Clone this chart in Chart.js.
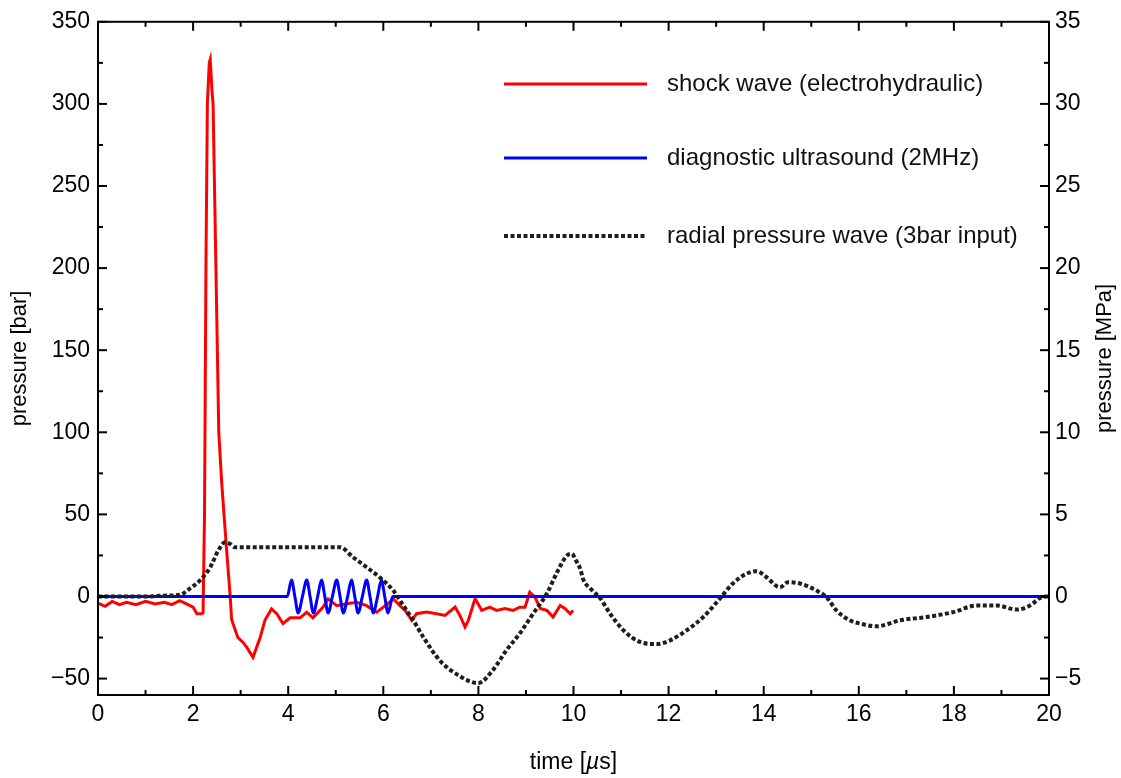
<!DOCTYPE html>
<html lang="en">
<head>
    <meta charset="UTF-8">
    <title>pressure waves</title>
    <style>
        body { margin: 0; background: #fff; }
    </style>
</head>
<body>
    <canvas id="myChart" width="1121" height="778"></canvas>
    <script src="https://cdn.jsdelivr.net/npm/chart.js"></script>
    <script>
        // values (time in µs, pressure in bar)
        const shockX = [0, 0.15, 0.3, 0.45, 0.6, 0.8, 1.0, 1.2, 1.4, 1.55, 1.72, 1.86, 2.0, 2.08, 2.18, 2.21,
            2.24, 2.27, 2.30, 2.34, 2.36, 2.40, 2.42, 2.48, 2.54, 2.60, 2.65, 2.70, 2.78, 2.81, 2.94, 3.05, 3.13,
            3.26, 3.41, 3.51, 3.65, 3.76, 3.89, 4.04, 4.25, 4.39, 4.52, 4.73, 4.84, 5.02, 5.23, 5.44, 5.65, 5.86,
            6.07, 6.21, 6.35, 6.47, 6.60, 6.70, 6.91, 7.12, 7.30, 7.51, 7.61, 7.72, 7.79, 7.93, 8.07, 8.24, 8.38,
            8.56, 8.73, 8.87, 8.98, 9.08, 9.19, 9.30, 9.44, 9.57, 9.72, 9.82, 9.93, 9.99];
        const shockY = [-4, -6, -3, -5, -3.5, -5, -3, -4.5, -3.5, -5, -2.5, -4.5, -6.5, -10.5, -10.5, -10,
            50, 200, 300, 325, 327, 307, 300, 200, 100, 70, 50, 30, 0, -14, -25, -28, -31,
            -37, -25, -14.5, -7.5, -10.5, -16.5, -13, -13, -9.6, -13, -6.6, -1.5, -5.6, -4.4, -3.5, -5.6, -9.6,
            -5, -1.5, -5.6, -9, -14.5, -10.5, -9.5, -10.5, -11.5, -6.5, -11.5, -18.6, -14.5, -1.2, -8.5, -6.5, -8.5,
            -7.3, -8.5, -6.5, -6.5, 2.6, -0.4, -7.3, -8.5, -12.5, -5.5, -7.3, -10.5, -8.5];

        const usX = [0, 3.98, 4.07, 4.14, 4.21, 4.30, 4.39, 4.46, 4.53, 4.62, 4.70, 4.77, 4.84, 4.93, 5.02,
            5.09, 5.16, 5.25, 5.33, 5.40, 5.47, 5.56, 5.65, 5.72, 5.79, 5.88, 5.96, 6.03, 6.10, 6.20, 20];
        const usY = [0, 0, 10, 0, -10, 0, 10, 0, -10, 0, 10, 0, -10, 0, 10,
            0, -10, 0, 10, 0, -10, 0, 10, 0, -10, 0, 10, 0, -10, 0, 0];

        const radialX = [0, 1.0, 1.4, 1.72, 1.93, 2.14, 2.36, 2.53, 2.67, 2.78, 2.88, 5.09, 5.36, 5.65, 5.93,
            6.21, 6.35, 6.49, 6.63, 6.84, 7.19, 7.61, 7.99, 8.3, 8.59, 8.87, 9.15, 9.44, 9.64, 9.86, 9.96, 10.07,
            10.14, 10.21, 10.35, 10.56, 10.77, 11.05, 11.4, 11.75, 12.03, 12.38, 12.73, 13.08, 13.35, 13.64,
            13.85, 14.06, 14.34, 14.51, 14.76, 15.11, 15.32, 15.53, 15.81, 16.03, 16.37, 16.87, 17.43, 17.99,
            18.48, 18.90, 19.32, 19.60, 19.85, 20];
        const radialY = [0, 0, 0.5, 1, 4.8, 9.7, 17.8, 28, 33, 32, 30, 30, 24, 17.8, 11.5,
            3.6, -2.4, -8.5, -14.5, -24.7, -39, -48.5, -52.8, -45, -32.7, -22.5, -10.5, 1.8, 13.9, 24.9, 26, 21,
            17, 10, 5, -1, -10.5, -20.6, -27.7, -29, -26.7, -20.6, -12.5, -1.2, 7.9, 13.9,
            15.4, 11.7, 5.6, 8.7, 7.9, 3.6, -0.4, -8.5, -14.5, -16.5, -18.2, -14.5, -12.5, -9.5,
            -5.5, -5.5, -8, -5.5, -0.4, 0];

        // tick labels
        const xTicks = [0, 2, 4, 6, 8, 10, 12, 14, 16, 18, 20];
        const barTicks = [-50, 0, 50, 100, 150, 200, 250, 300, 350];
        const mpaTicks = [-5, 0, 5, 10, 15, 20, 25, 30, 35];

        const seriesNames = ['shock wave (electrohydraulic)', 'diagnostic ultrasound (2MHz)', 'radial pressure wave (3bar input)'];
        const xTitle = 'time [µs]';
        const yTitle = 'pressure [bar]';
        const y1Title = 'pressure [MPa]';

        const FONT = "'Liberation Sans', Arial, Helvetica, sans-serif";
        const pts = (xs, ys) => xs.map((x, i) => ({x: x, y: ys[i]}));
        const minus = v => String(v).replace('-', '\u2212');
        const setTicks = list => s => { s.ticks = list.map(v => ({value: v})); };

        // frame with inward ticks, axis titles and the legend inside the plot
        const decor = {
            id: 'decor',
            afterDatasetsDraw(chart) {
                const {ctx, chartArea: a, scales} = chart;
                ctx.save();
                ctx.strokeStyle = '#000';
                ctx.lineWidth = 2;
                const seg = (x1, y1, x2, y2) => { ctx.beginPath(); ctx.moveTo(x1, y1); ctx.lineTo(x2, y2); ctx.stroke(); };
                for (let v = 0; v <= 20; v += 1) {
                    const px = scales.x.getPixelForValue(v);
                    const len = v % 2 === 0 ? 9 : 5;
                    seg(px, a.bottom, px, a.bottom - len);
                    seg(px, a.top, px, a.top + len);
                }
                for (let v = -50; v <= 350; v += 25) {
                    const py = scales.y.getPixelForValue(v);
                    seg(a.left, py, a.left + (v % 50 === 0 ? 9 : 5), py);
                }
                for (let v = -5; v <= 35; v += 2.5) {
                    const py = scales.y1.getPixelForValue(v);
                    seg(a.right, py, a.right - (v % 5 === 0 ? 9 : 5), py);
                }
                ctx.strokeRect(a.left, a.top, a.right - a.left, a.bottom - a.top);

                // axis titles
                ctx.fillStyle = '#000';
                ctx.font = '22px ' + FONT;
                ctx.textAlign = 'center';
                ctx.textBaseline = 'middle';
                const midY = (a.top + a.bottom) / 2;
                [[20, yTitle], [1105, y1Title]].forEach(([tx, txt]) => {
                    ctx.save();
                    ctx.translate(tx, midY);
                    ctx.rotate(-Math.PI / 2);
                    ctx.fillText(txt, 0, 0);
                    ctx.restore();
                });
                // time [µs] with an italic µ
                const f = '23px ' + FONT, fi = 'italic 23px ' + FONT;
                const parts = xTitle.split('µ');
                ctx.font = f;
                const w1 = ctx.measureText(parts[0]).width;
                const w2 = ctx.measureText(parts[1]).width;
                ctx.font = fi;
                const wm = ctx.measureText('µ').width;
                const tx = (a.left + a.right) / 2 - (w1 + wm + w2) / 2;
                ctx.textAlign = 'left';
                ctx.font = f;
                ctx.fillText(parts[0], tx, 763);
                ctx.font = fi;
                ctx.fillText('µ', tx + w1, 763);
                ctx.font = f;
                ctx.fillText(parts[1], tx + w1 + wm, 763);

                // legend
                const rows = [84, 158, 236];
                ctx.font = '24px ' + FONT;
                chart.data.datasets.forEach((ds, i) => {
                    ctx.save();
                    ctx.strokeStyle = ds.borderColor;
                    ctx.lineWidth = ds.borderWidth;
                    ctx.setLineDash(ds.borderDash || []);
                    seg(504, rows[i], 647, rows[i]);
                    ctx.restore();
                    ctx.fillStyle = '#111';
                    ctx.textAlign = 'left';
                    ctx.fillText(ds.label, 667, rows[i]);
                });
                ctx.restore();
            }
        };

        const ctx = document.querySelector('#myChart');
        const myChart = new Chart(ctx, {
            type: 'line',
            data: {
                datasets: [
                    {
                        label: seriesNames[0],
                        data: pts(shockX, shockY),
                        borderColor: '#ff0000',
                        borderWidth: 3,
                        tension: 0,
                        order: 2
                    },
                    {
                        label: seriesNames[1],
                        data: pts(usX, usY),
                        borderColor: '#0000ff',
                        borderWidth: 3,
                        cubicInterpolationMode: 'monotone',
                        order: 1
                    },
                    {
                        label: seriesNames[2],
                        data: pts(radialX, radialY),
                        borderColor: '#1e1e1e',
                        borderWidth: 4,
                        borderDash: [4, 2.5],
                        cubicInterpolationMode: 'monotone',
                        order: 0
                    }
                ]
            },
            options: {
                responsive: false,
                animation: false,
                events: [],
                layout: { padding: { top: 19, left: 0, right: 0, bottom: 0 } },
                elements: { point: { radius: 0 } },
                plugins: { legend: { display: false }, tooltip: { enabled: false } },
                scales: {
                    x: {
                        type: 'linear',
                        min: 0, max: 20,
                        grid: { display: false, drawTicks: false },
                        border: { display: false },
                        afterBuildTicks: setTicks(xTicks),
                        ticks: { padding: 6, color: '#000', maxRotation: 0, autoSkip: false, font: { family: FONT, size: 23 } },
                        afterFit: s => { s.height = 83; }
                    },
                    y: {
                        position: 'left',
                        min: -60, max: 350,
                        grid: { display: false, drawTicks: false },
                        border: { display: false },
                        afterBuildTicks: setTicks(barTicks),
                        ticks: { padding: 8, color: '#000', autoSkip: false, font: { family: FONT, size: 23 }, callback: v => minus(v) },
                        afterFit: s => { s.width = 98; }
                    },
                    y1: {
                        position: 'right',
                        min: -6, max: 35,
                        grid: { display: false, drawTicks: false },
                        border: { display: false },
                        afterBuildTicks: setTicks(mpaTicks),
                        ticks: { padding: 6, color: '#000', autoSkip: false, font: { family: FONT, size: 23 }, callback: v => minus(v) },
                        afterFit: s => { s.width = 72; }
                    }
                }
            },
            plugins: [decor]
        });
    </script>
</body>
</html>
